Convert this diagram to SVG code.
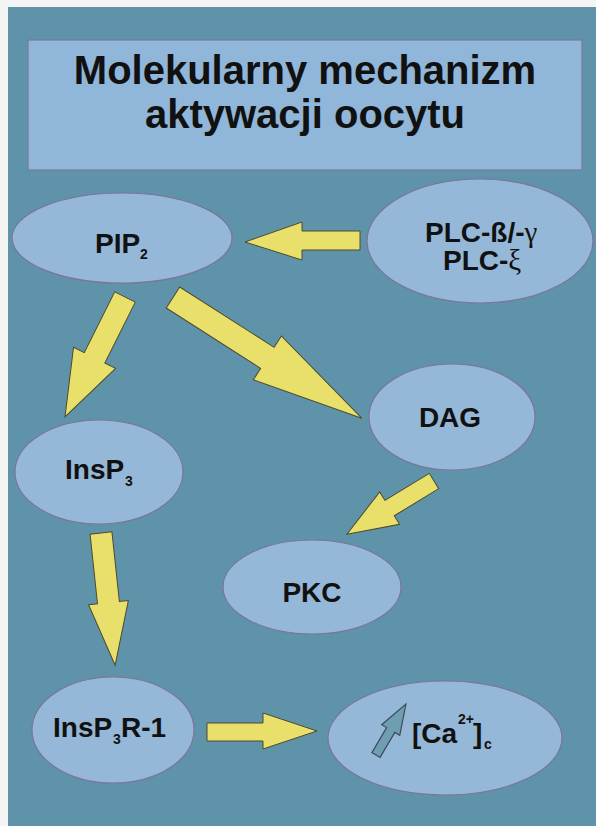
<svg xmlns="http://www.w3.org/2000/svg" width="596" height="826" viewBox="0 0 596 826">
<style>
.node{fill:#95b8d8;stroke:#7d739e;stroke-width:1.2}
.lbl{font-family:"Liberation Sans",Arial,sans-serif;font-weight:bold;font-size:28px;fill:#111}
.sub{font-family:"Liberation Sans",Arial,sans-serif;font-weight:bold;font-size:14px;fill:#111}
.greek{font-family:"Liberation Serif","Times New Roman",serif;font-weight:normal;font-size:29px;fill:#111}
.title{font-family:"Liberation Sans",Arial,sans-serif;font-weight:bold;font-size:40px;fill:#111;text-anchor:middle}
.arr{fill:#e8e06a;stroke:#4d4a2e;stroke-width:1;stroke-linejoin:miter}
.small{fill:#6f9db2;stroke:#3c4d58;stroke-width:1.2}
</style>
<rect x="0" y="0" width="596" height="826" fill="#f4f4f4"/>
<rect x="8" y="7" width="588" height="819" fill="#5f93a9"/>
<g id="title">
<rect x="28" y="40" width="554" height="130" fill="#90b6d9" stroke="#7d789f" stroke-width="1.2"/>
<text class="title" x="305" y="84">Molekularny mechanizm</text>
<text class="title" x="305" y="128">aktywacji oocytu</text>
</g>
<g id="connectors">
<polygon class="arr" points="360,231 302,231 302,222 245,242 302,260 302,250 360,250"/>
<polygon class="arr" transform="translate(125,297) rotate(116.6)" points="0,-11.5 68,-11.5 68,-23.5 134,0 68,23.5 68,11.5 0,11.5"/>
<polygon class="arr" transform="translate(173,297.5) rotate(32.6)" points="0,-12.5 112,-12.5 112,-26 224,0 112,26 112,12.5 0,12.5"/>
<polygon class="arr" transform="translate(101,533) rotate(83.9)" points="0,-11 70,-11 70,-20 133,0 70,20 70,11 0,11"/>
<polygon class="arr" points="207,723 263,723 263,713 317,731 263,749 263,741 207,741"/>
<polygon class="arr" transform="translate(434,481) rotate(148.6)" points="0,-9 52,-9 52,-19 102,0 52,19 52,9 0,9"/>
</g>
<g id="node-pip2">
<ellipse class="node" cx="122" cy="238" rx="110" ry="45"/>
<text class="lbl" x="95" y="253">PIP</text>
<text class="sub" x="140" y="259">2</text>
</g>
<g id="node-plc">
<ellipse class="node" cx="480" cy="241" rx="113" ry="62"/>
<text class="lbl" x="425" y="242">PLC-ß/-<tspan class="greek">γ</tspan></text>
<text class="lbl" x="443" y="270">PLC-<tspan class="greek">ξ</tspan></text>
</g>
<g id="node-insp3">
<ellipse class="node" cx="99" cy="472" rx="84" ry="52"/>
<text class="lbl" x="65" y="479">InsP</text>
<text class="sub" x="125" y="486">3</text>
</g>
<g id="node-dag">
<ellipse class="node" cx="452" cy="417" rx="83" ry="53"/>
<text class="lbl" x="450" y="427" text-anchor="middle">DAG</text>
</g>
<g id="node-pkc">
<ellipse class="node" cx="312" cy="587" rx="89" ry="47"/>
<text class="lbl" x="312" y="602" text-anchor="middle">PKC</text>
</g>
<g id="node-insp3r1">
<ellipse class="node" cx="113" cy="730" rx="81" ry="53"/>
<text class="lbl" x="53" y="737">InsP</text>
<text class="sub" x="113" y="744">3</text>
<text class="lbl" x="121" y="737">R-1</text>
</g>
<g id="node-ca">
<ellipse class="node" cx="445" cy="738" rx="117" ry="57"/>
<polygon class="small" transform="translate(376,755) rotate(-59.5)" points="0,-4.75 29,-4.75 29,-10.5 59,0 29,10.5 29,4.75 0,4.75"/>
<text class="lbl" x="412" y="743">[Ca</text>
<text class="sub" x="458" y="724">2+</text>
<text class="lbl" x="473" y="743">]</text>
<text class="sub" x="484" y="749">c</text>
</g>
</svg>
